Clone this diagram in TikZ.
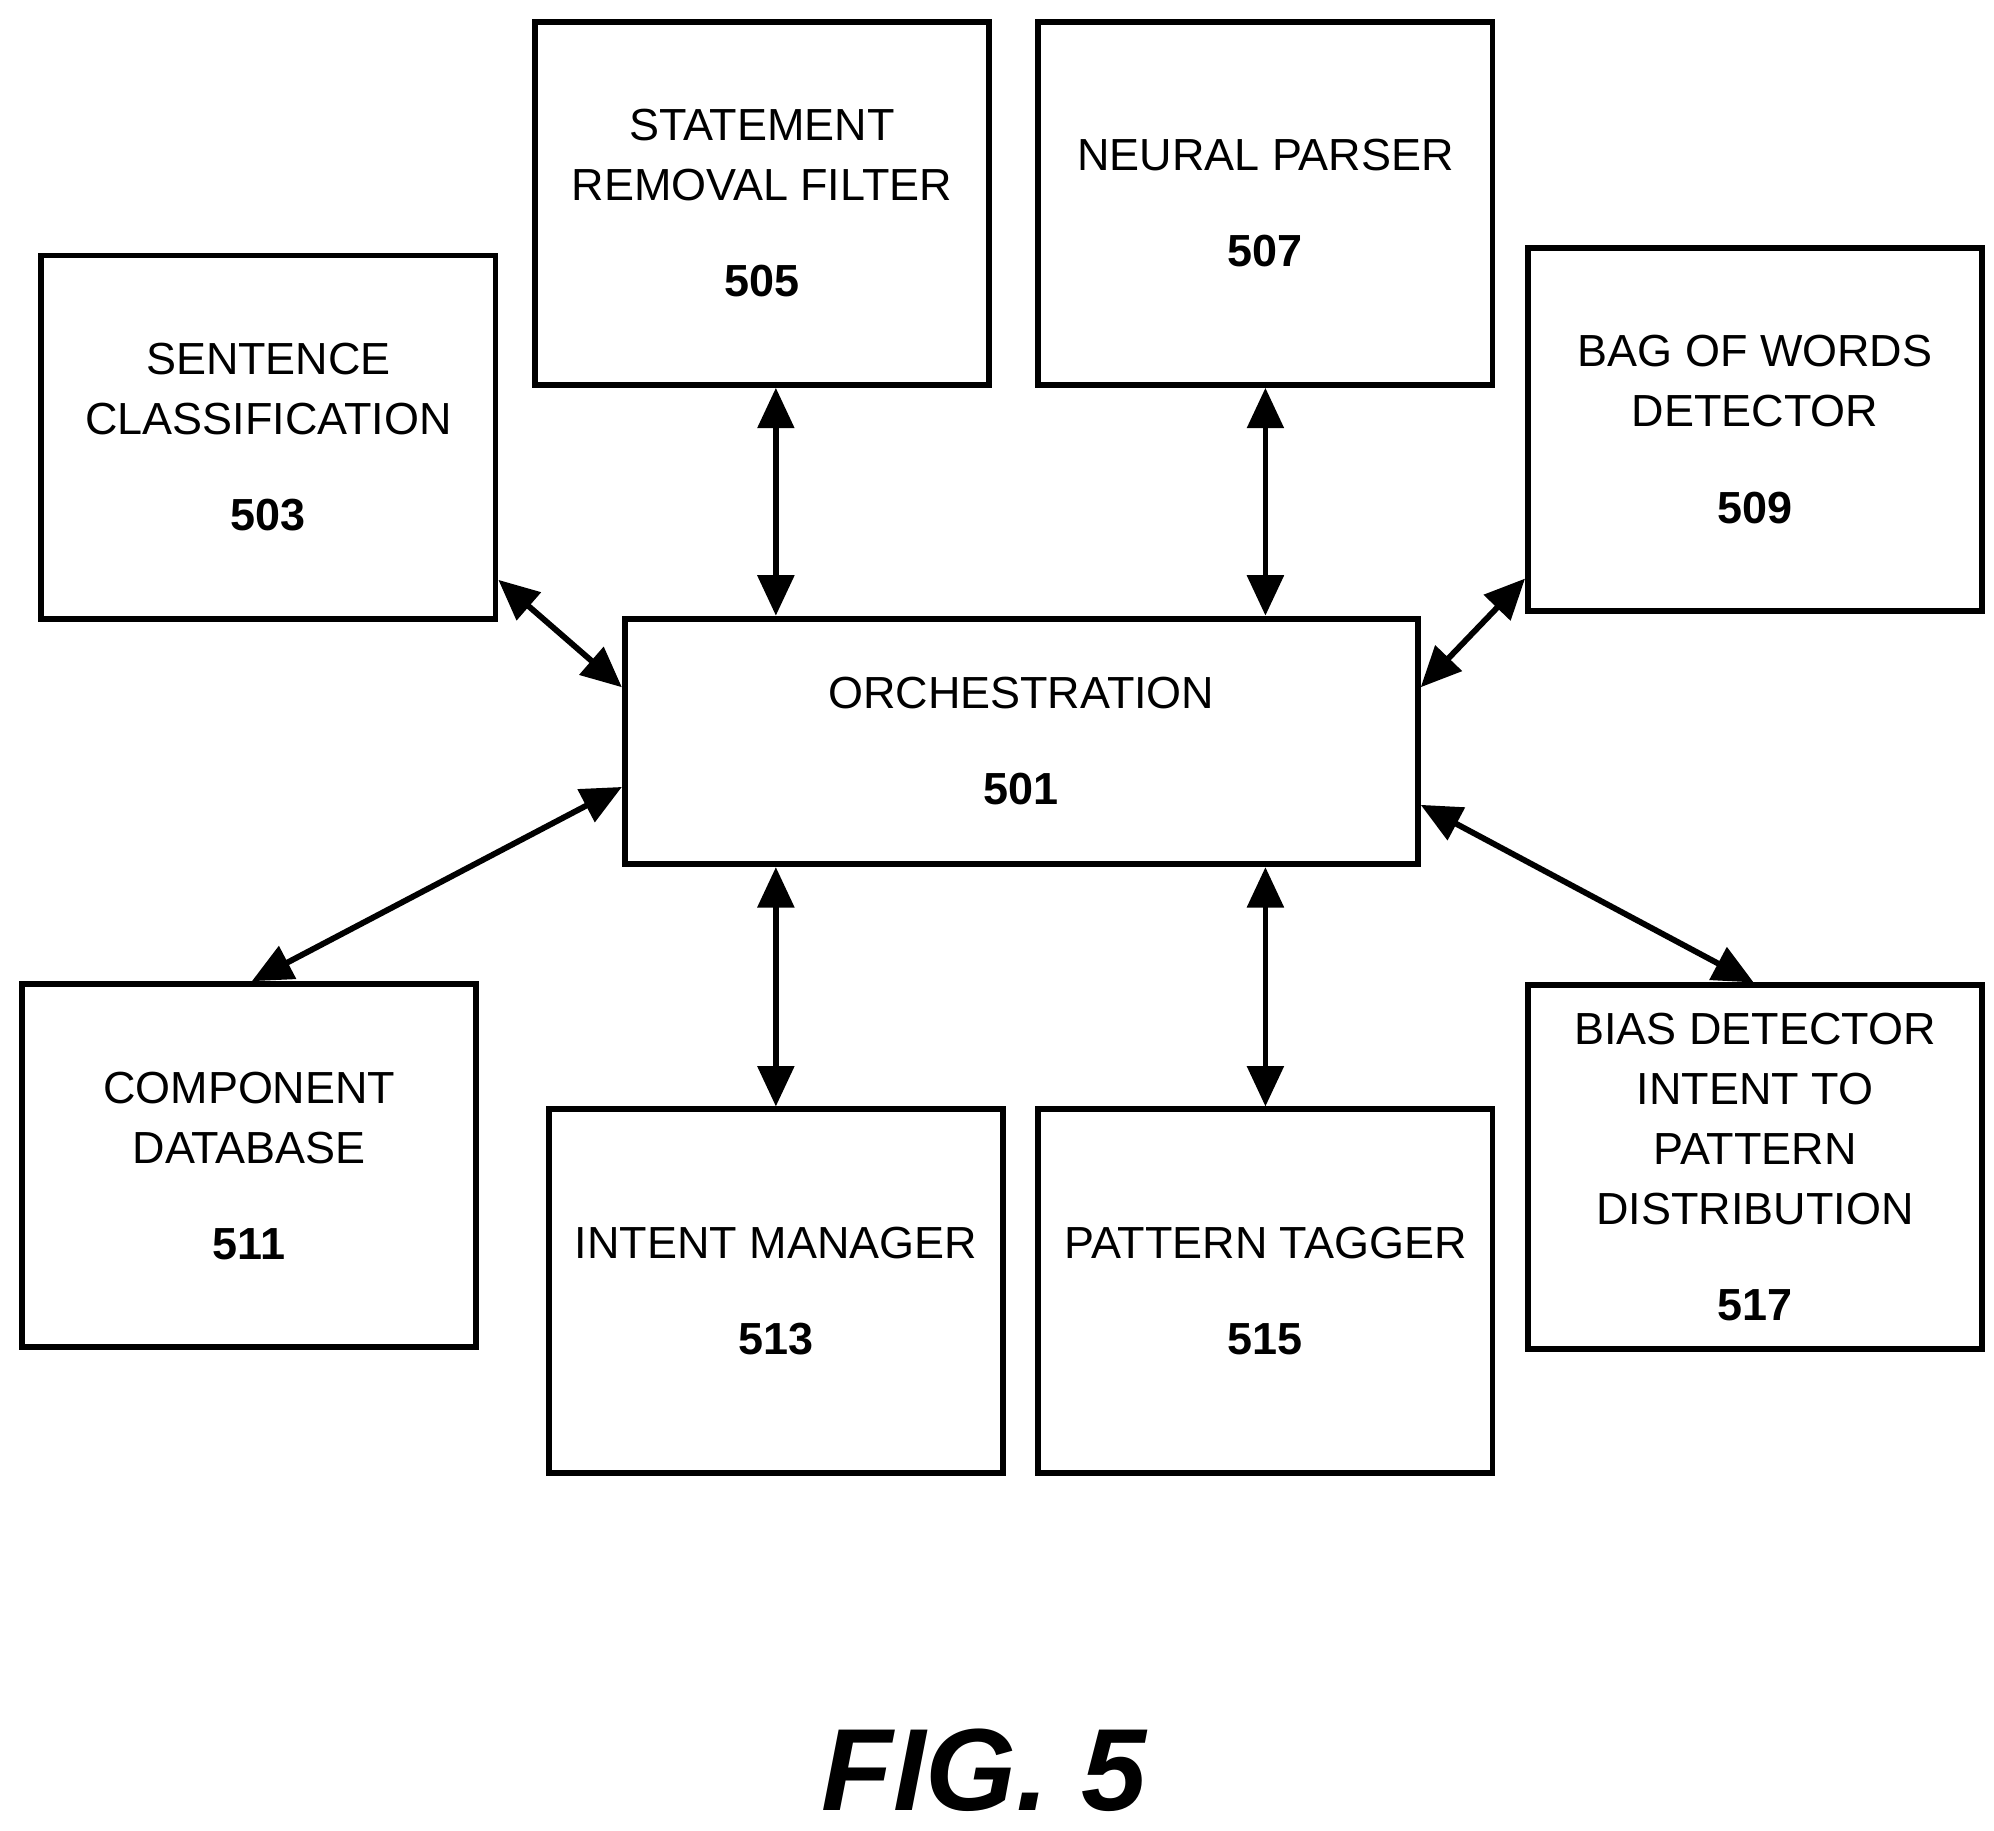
\documentclass[tikz,border=0pt]{standalone}
\usepackage{fontspec}
\setmainfont{Liberation Sans}
\usetikzlibrary{arrows.meta,calc}

\tikzset{
  blk/.style={draw,line width=1.3pt,minimum width=3.55cm,minimum height=2.84cm,
    align=center,inner sep=0pt,font=\fontsize{10}{13.4}\selectfont},
  link/.style={line width=1.3pt,{Triangle[length=9pt,width=8pt]}-{Triangle[length=9pt,width=8pt]}},
}
\newcommand{\num}[1]{\\[8pt]\textbf{#1}}

\begin{document}
\begin{tikzpicture}[x=0.01cm,y=-0.01cm]
  \useasboundingbox (0,0) rectangle (1560,1432);

  \node[blk,minimum width=6.2cm,minimum height=1.92cm] (orch) at (799,580) {ORCHESTRATION\num{501}};
  \node[blk] (sent) at (210,342) {SENTENCE\\CLASSIFICATION\num{503}};
  \node[blk] (stmt) at (596,159) {STATEMENT\\REMOVAL FILTER\num{505}};
  \node[blk] (neur) at (990,159) {NEURAL PARSER\num{507}};
  \node[blk] (bag) at (1373,336) {BAG OF WORDS\\DETECTOR\num{509}};
  \node[blk] (comp) at (195,912) {COMPONENT\\DATABASE\num{511}};
  \node[blk] (intm) at (607,1010) {INTENT MANAGER\num{513}};
  \node[blk] (patt) at (990,1010) {PATTERN TAGGER\num{515}};
  \node[blk] (bias) at (1373,913) {BIAS DETECTOR\\INTENT TO\\PATTERN\\DISTRIBUTION\num{517}};

  \node[font=\fontsize{26}{26}\selectfont\bfseries\itshape] (fig) at (770,1385) {FIG. 5};

  \draw[link] ($(stmt.south)+(11,0)$) -- ($(orch.north)+(-192,0)$);
  \draw[link] (neur.south) -- ($(orch.north)+(191,0)$);
  \draw[link] ($(sent.north east)+(0,256)$) -- ($(orch.north west)+(0,56)$);
  \draw[link] ($(bag.north west)+(0,261)$) -- ($(orch.north east)+(0,56)$);
  \draw[link] ($(comp.north)+(2,0)$) -- ($(orch.north west)+(0,134)$);
  \draw[link] ($(orch.south)+(-192,0)$) -- (intm.north);
  \draw[link] ($(orch.south)+(191,0)$) -- (patt.north);
  \draw[link] ($(orch.north east)+(0,148)$) -- ($(bias.north)+(-1,0)$);
\end{tikzpicture}
\end{document}
